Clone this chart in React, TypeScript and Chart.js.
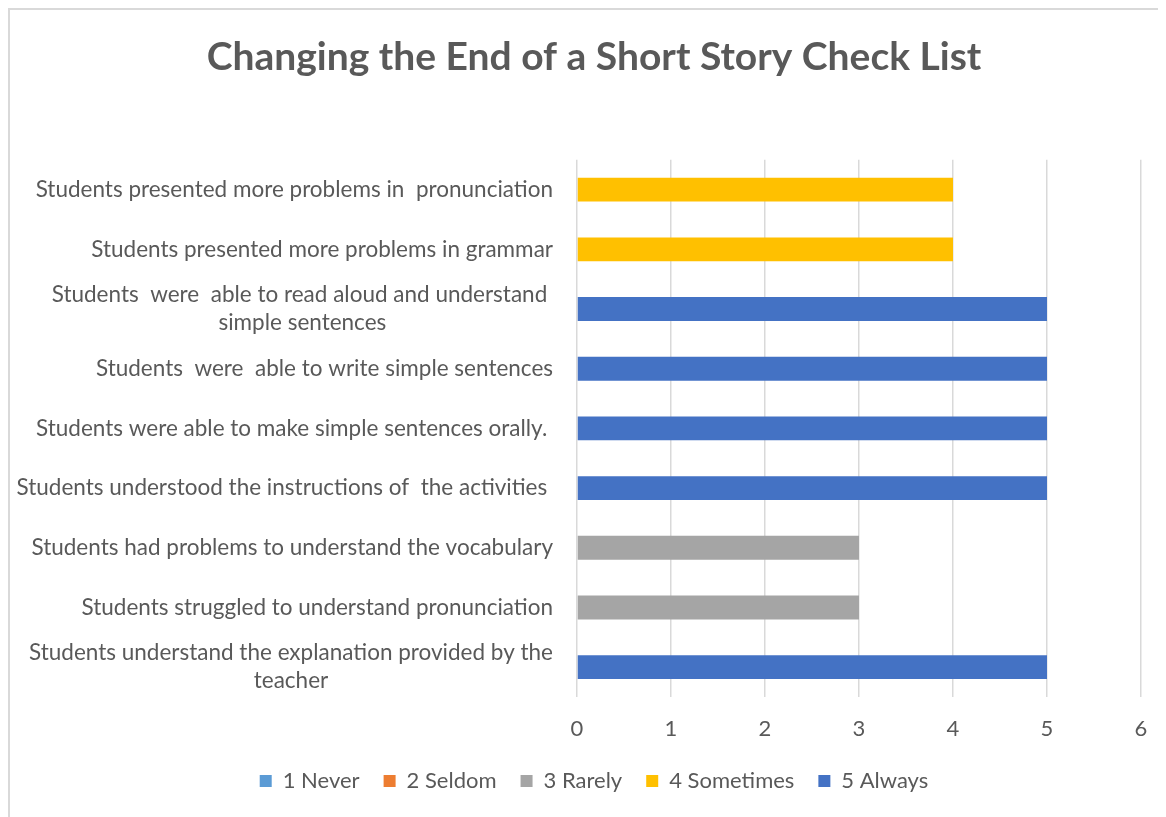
import React, { useEffect, useRef } from "react";
import { Chart, registerables } from "chart.js";

Chart.register(...registerables);

const TITLE = "Changing the End of a Short Story Check List";

const categories: (string | string[])[] = [
  "Students presented more problems in  pronunciation",
  "Students presented more problems in grammar",
  ["Students  were  able to read aloud and understand ", "simple sentences"],
  "Students  were  able to write simple sentences",
  "Students were able to make simple sentences orally. ",
  "Students understood the instructions of  the activities ",
  "Students had problems to understand the vocabulary",
  "Students struggled to understand pronunciation",
  ["Students understand the explanation provided by the", "teacher"],
];

const seriesNames = ["1 Never", "2 Seldom", "3 Rarely", "4 Sometimes", "5 Always"];
const seriesColors = ["#5B9BD5", "#ED7D31", "#A5A5A5", "#FFC000", "#4472C4"];

const neverValues = [null, null, null, null, null, null, null, null, null];
const seldomValues = [null, null, null, null, null, null, null, null, null];
const rarelyValues = [null, null, null, null, null, null, 3, 3, null];
const sometimesValues = [4, 4, null, null, null, null, null, null, null];
const alwaysValues = [null, null, 5, 5, 5, 5, null, null, 5];

const xTicks = [0, 1, 2, 3, 4, 5, 6];

const TEXT = "#595959";
const FONT = "Lato";

const yLabelPlugin = {
  id: "yLabels",
  afterDraw(chart: any) {
    const ctx = chart.ctx;
    const y = chart.scales.y;
    const area = chart.chartArea;
    ctx.save();
    ctx.font = `22.5px ${FONT}`;
    ctx.fillStyle = TEXT;
    ctx.textAlign = "center";
    ctx.textBaseline = "middle";
    const right = area.left - 24;
    const lh = 28;
    categories.forEach((lab, i) => {
      const lines = Array.isArray(lab) ? lab : [lab];
      const cy = y.getPixelForValue(i);
      const maxW = Math.max(...lines.map((l) => ctx.measureText(l).width));
      const cx = right - maxW / 2;
      const start = cy - ((lines.length - 1) * lh) / 2;
      lines.forEach((l, k) => ctx.fillText(l, cx, start + k * lh));
    });
    ctx.restore();
  },
};

export default function App() {
  const ref = useRef<HTMLCanvasElement>(null);
  useEffect(() => {
    document.body.style.overflow = "hidden";
    const values = [neverValues, seldomValues, rarelyValues, sometimesValues, alwaysValues];
    const chart = new Chart(ref.current!, {
      type: "bar",
      data: {
        labels: categories,
        datasets: seriesNames.map((name, i) => ({
          label: name,
          data: values[i],
          backgroundColor: seriesColors[i],
          borderWidth: 0,
          barPercentage: 0.4,
          categoryPercentage: 1,
        })),
      },
      options: {
        indexAxis: "y",
        animation: false,
        responsive: false,
        maintainAspectRatio: false,
        layout: { padding: { left: 12, right: 0, top: 0, bottom: 15 } },
        plugins: {
          title: {
            display: true,
            text: TITLE,
            color: TEXT,
            font: { family: FONT, size: 39, weight: "bold" },
            padding: { top: 24, bottom: 79 },
          },
          legend: {
            position: "bottom",
            labels: {
              color: TEXT,
              font: { family: FONT, size: 22 },
              boxWidth: 12,
              boxHeight: 12,
              padding: 24,
            },
          },
          tooltip: { enabled: false },
        },
        scales: {
          x: {
            stacked: true,
            min: 0,
            max: 6,
            afterBuildTicks: (s: any) => {
              s.ticks = xTicks.map((v) => ({ value: v }));
            },
            afterFit: (s: any) => {
              s.height = 49;
              s.paddingRight = 25;
            },
            grid: { color: "#D9D9D9", lineWidth: 1.5, drawTicks: false },
            border: { display: false },
            ticks: {
              color: TEXT,
              font: { family: FONT, size: 22 },
              padding: 19,
            },
          },
          y: {
            stacked: true,
            afterFit: (s: any) => {
              s.width = 555;
            },
            grid: { display: false },
            border: { display: false },
            ticks: { display: false },
          },
        },
      },
      plugins: [yLabelPlugin],
    });
    return () => chart.destroy();
  }, []);

  return (
    <div
      style={{
        width: 1158,
        height: 809,
        boxSizing: "border-box",
        borderTop: "2px solid #D9D9D9",
        borderLeft: "2px solid #D9D9D9",
        background: "#fff",
      }}
    >
      <canvas ref={ref} width={1156} height={807} style={{ display: "block" }} />
    </div>
  );
}
